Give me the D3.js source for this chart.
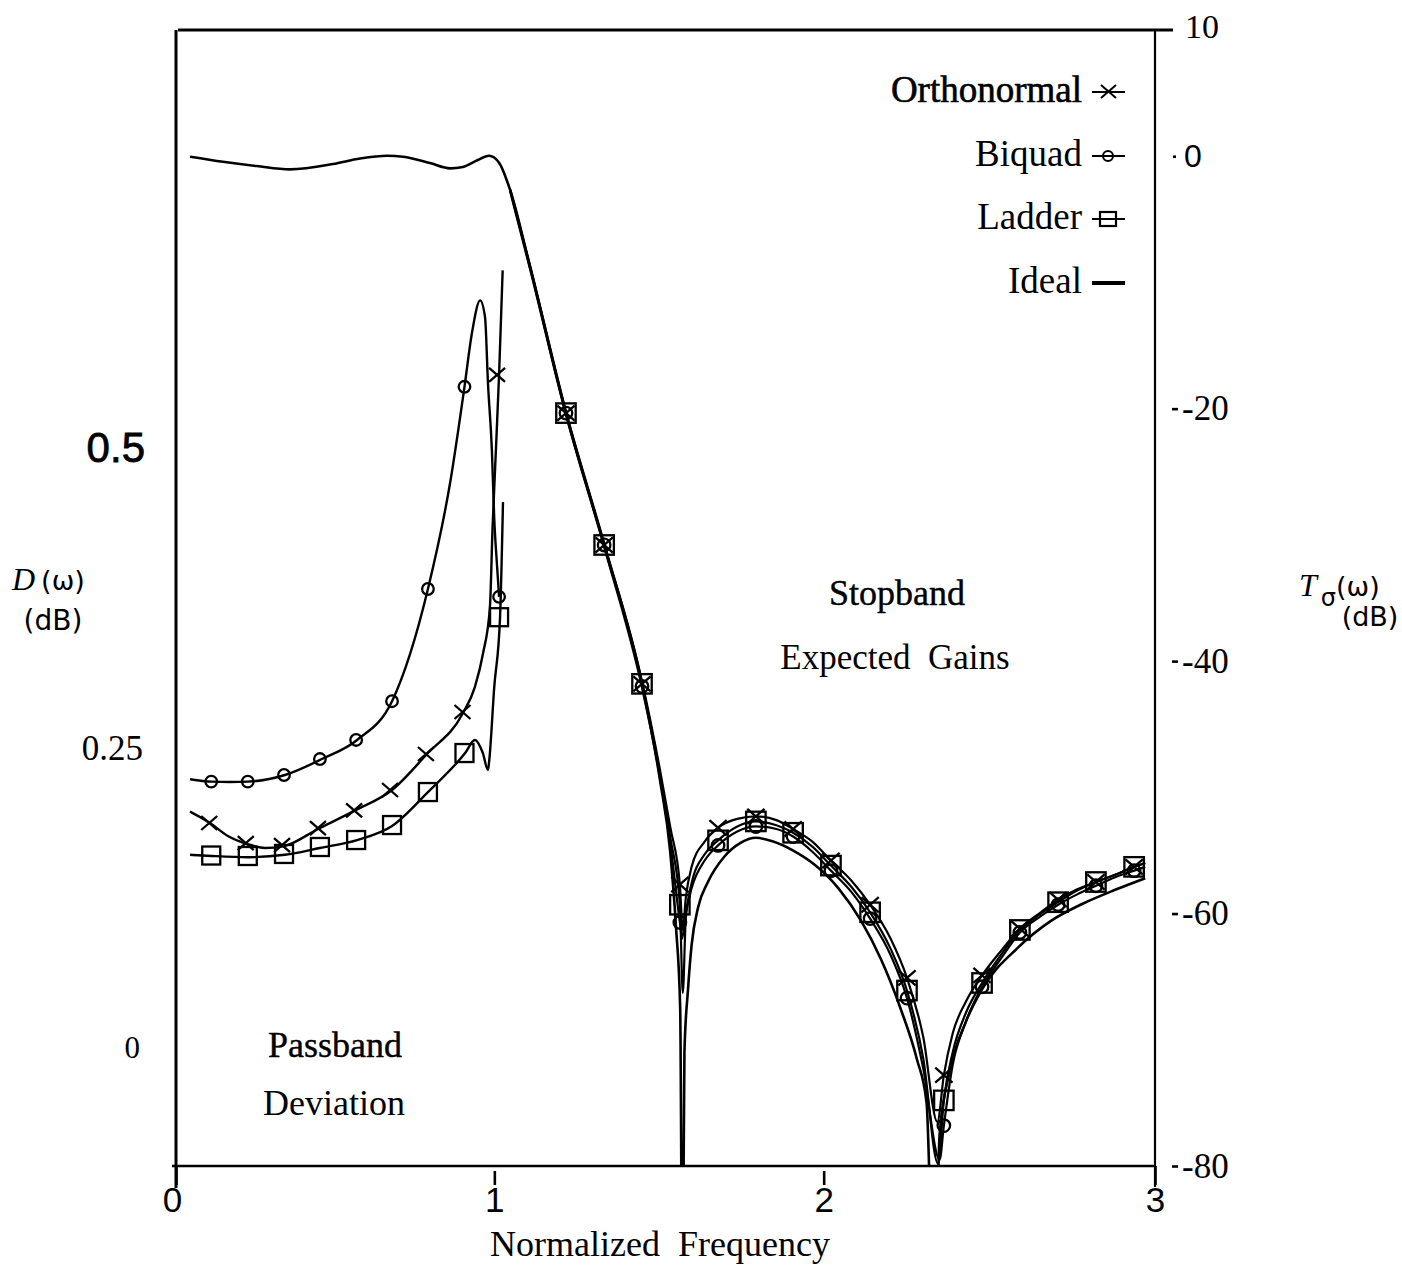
<!DOCTYPE html>
<html><head><meta charset="utf-8">
<script src="https://cdn.jsdelivr.net/npm/d3@7"></script>
<style>body{margin:0;background:#fff}text{white-space:pre}</style>
</head><body><svg id="c" width="1402" height="1266"></svg>
<script>
// ---------- DATA ----------
const xTicks = [0, 1, 2, 3];
const leftTicks = [0, 0.25, 0.5];
const rightTicks = [10, 0, -20, -40, -60, -80];
const legendNames = ["Orthonormal", "Biquad", "Ladder", "Ideal"];
const legendTypes = ["x", "o", "sq", "ideal"];

// Passband deviation D(w) (dB, left axis): [normalized frequency, value]
const pbOrthoLine = [[0.043,0.197],[0.104,0.1875],[0.159,0.1767],[0.218,0.170],[0.273,0.1667],[0.328,0.168],[0.435,0.1825],[0.549,0.198],[0.662,0.215],[0.769,0.245],[0.879,0.279],[0.916,0.301],[0.941,0.329],[0.962,0.3675],[0.970,0.433],[0.978,0.484],[0.990,0.561],[1.001,0.648]];
const pbBiquadLine = [[0.043,0.224],[0.110,0.222],[0.165,0.2217],[0.221,0.222],[0.334,0.2275],[0.447,0.2408],[0.555,0.2567],[0.662,0.289],[0.772,0.3825],[0.840,0.471],[0.884,0.551],[0.907,0.596],[0.932,0.623],[0.947,0.609],[0.956,0.554],[0.968,0.498],[0.975,0.4425],[0.984,0.401],[0.990,0.376]];
const pbLadderLine = [[0.043,0.161],[0.110,0.160],[0.221,0.159],[0.334,0.161],[0.441,0.1667],[0.555,0.1733],[0.662,0.185],[0.772,0.2133],[0.886,0.2458],[0.916,0.2567],[0.940,0.246],[0.956,0.2317],[0.960,0.240],[0.975,0.300],[0.993,0.359],[1.002,0.455]];

const pbMarkerFreq = [0.108,0.220,0.331,0.441,0.552,0.662,0.772,0.884,0.990];
const pbOrthoMarks = [0.1875,0.1708,0.169,0.1833,0.198,0.215,0.245,0.280,0.561];
const pbBiquadMarks = [0.222,0.222,0.2275,0.2408,0.2567,0.289,0.3825,0.551,0.376];
const pbLadderMarks = [0.1604,0.160,0.1617,0.1675,0.1733,0.1858,0.2133,0.2458,0.359];

// Gain T(w) (dB, right axis)
const idealLine = [[0.043,-0.04],[0.144,-0.44],[0.248,-0.78],[0.349,-1.04],[0.481,-0.62],[0.564,-0.18],[0.647,0.04],[0.696,-0.04],[0.778,-0.54],[0.840,-0.96],[0.879,-0.86],[0.925,-0.30],[0.959,0.04],[0.990,-0.51],[1.024,-2.68],[1.085,-8.78],[1.195,-20.35],[1.312,-30.8],[1.428,-41.8],[1.483,-49.4],[1.514,-55.0],[1.532,-61.0],[1.545,-67.5],[1.552,-92],[1.558,-71],[1.569,-66],[1.58,-62.5],[1.60,-59.5],[1.63,-57.5],[1.68,-55.5],[1.73,-54.4],[1.777,-54.0],[1.83,-54.3],[1.89,-55.0],[1.96,-56.2],[2.03,-58.0],[2.10,-60.6],[2.16,-63.6],[2.22,-67.5],[2.27,-71.5],[2.30,-75],[2.324,-92],[2.34,-77.5],[2.37,-72.6],[2.42,-68.6],[2.47,-66.0],[2.58,-62.7],[2.68,-60.6],[2.78,-59.2],[2.88,-58.1],[2.97,-57.2]];
const orthoStop = [[1.024,-2.6],[1.085,-8.65],[1.195,-20.2],[1.312,-30.65],[1.428,-41.6],[1.483,-48.6],[1.515,-53.2],[1.544,-57.7],[1.553,-61.3],[1.562,-58.8],[1.58,-56.3],[1.62,-54.3],[1.661,-53.2],[1.72,-52.5],[1.777,-52.3],[1.84,-52.6],[1.891,-53.3],[1.95,-54.3],[2.007,-55.8],[2.07,-57.4],[2.127,-59.3],[2.19,-62.0],[2.24,-65.1],[2.29,-69.8],[2.333,-76.5],[2.353,-72.8],[2.38,-69.5],[2.42,-67.0],[2.470,-64.9],[2.53,-62.9],[2.586,-61.2],[2.65,-59.9],[2.703,-58.9],[2.76,-58.1],[2.819,-57.5],[2.88,-56.9],[2.936,-56.3],[2.97,-56.0]];
const ladderStop = [[1.024,-2.68],[1.085,-8.78],[1.195,-20.35],[1.312,-30.8],[1.428,-41.8],[1.483,-48.9],[1.515,-54.0],[1.544,-59.3],[1.553,-66.3],[1.562,-60.5],[1.58,-57.6],[1.62,-55.3],[1.661,-54.2],[1.72,-53.1],[1.777,-52.7],[1.84,-53.0],[1.891,-53.6],[1.95,-54.7],[2.007,-56.2],[2.07,-57.9],[2.127,-59.9],[2.19,-62.8],[2.24,-66.1],[2.29,-71.5],[2.335,-79.8],[2.353,-74.8],[2.38,-71.0],[2.42,-67.9],[2.470,-65.5],[2.53,-63.2],[2.586,-61.3],[2.65,-60.0],[2.703,-59.1],[2.76,-58.2],[2.819,-57.5],[2.88,-56.9],[2.936,-56.3],[2.97,-56.0]];
const biquadStop = [[1.024,-2.8],[1.085,-8.95],[1.195,-20.5],[1.312,-30.95],[1.428,-42.1],[1.483,-49.2],[1.515,-54.5],[1.544,-60.7],[1.551,-62.0],[1.56,-60.3],[1.58,-58.0],[1.62,-55.8],[1.661,-54.6],[1.72,-53.5],[1.777,-53.1],[1.84,-53.3],[1.891,-53.9],[1.95,-55.1],[2.007,-56.6],[2.07,-58.3],[2.127,-60.4],[2.19,-63.3],[2.24,-66.7],[2.29,-72.3],[2.340,-79.5],[2.353,-76.8],[2.38,-72.0],[2.42,-68.6],[2.470,-65.8],[2.53,-63.5],[2.586,-61.5],[2.65,-60.2],[2.703,-59.3],[2.76,-58.5],[2.819,-57.8],[2.88,-57.1],[2.936,-56.6],[2.97,-56.3]];

const sbMarkerFreq = [1.195,1.312,1.428,1.544,1.661,1.777,1.891,2.007,2.127,2.240,2.353,2.470,2.586,2.703,2.819,2.936];
const sbOrthoMarks = [-20.35,-30.8,-41.8,-57.7,-53.2,-52.3,-53.3,-55.8,-59.3,-65.1,-72.8,-64.9,-61.2,-58.9,-57.5,-56.3];
const sbLadderMarks = [-20.35,-30.8,-41.8,-59.3,-54.2,-52.7,-53.6,-56.2,-59.9,-66.1,-74.8,-65.5,-61.3,-59.1,-57.5,-56.3];
const sbBiquadMarks = [-20.35,-30.8,-42.0,-60.7,-54.6,-53.1,-53.9,-56.6,-60.4,-66.7,-76.8,-65.8,-61.5,-59.3,-57.8,-56.6];

// ---------- DRAWING ----------
const serif = "'Liberation Serif','Times New Roman',serif";
const sans = "'Liberation Sans',Arial,sans-serif";
const dejavu = "'DejaVu Sans',sans-serif";

const svg = d3.select("#c");
const x = d3.scaleLinear().domain([0, 3]).range([176, 1155]);
const yL = d3.scaleLinear().domain([0, 0.5]).range([1048, 448]);
const yR = d3.scaleLinear().domain([-80, 10]).range([1166, 30]);

svg.append("defs").append("clipPath").attr("id", "plot").append("rect")
  .attr("x", x(0)).attr("y", yR(10)).attr("width", x(3) - x(0)).attr("height", yR(-80) - yR(10));

// frame
const frame = svg.append("g").attr("stroke", "#000").attr("stroke-linecap", "butt");
frame.append("line").attr("x1", x(0)).attr("x2", x(0)).attr("y1", yR(10)).attr("y2", yR(-80) + 22).attr("stroke-width", 3);
frame.append("line").attr("x1", x(0) + 2).attr("x2", x(3) + 18).attr("y1", yR(10)).attr("y2", yR(10)).attr("stroke-width", 2.8);
frame.append("line").attr("x1", x(3)).attr("x2", x(3)).attr("y1", yR(10)).attr("y2", yR(-80) + 21).attr("stroke-width", 2.2);
frame.append("line").attr("x1", x(0) - 4).attr("x2", x(3)).attr("y1", yR(-80)).attr("y2", yR(-80)).attr("stroke-width", 2.6);

// bottom axis
const xShift = {0: -4, 1: -8, 2: -5, 3: 0};
const gx = svg.append("g").attr("transform", `translate(0,${yR(-80)})`)
  .call(d3.axisBottom(x).tickValues(xTicks).tickSize(19).tickSizeOuter(0).tickPadding(2).tickFormat(d3.format("d")));
gx.select(".domain").remove();
gx.selectAll(".tick line").attr("stroke", "#000").attr("stroke-width", 2.6)
  .attr("y1", d => (d === 1 || d === 2) ? 5 : 0)
  .attr("x1", d => (d === 1 || d === 2) ? xShift[d] : 0)
  .attr("x2", d => (d === 1 || d === 2) ? xShift[d] : 0);
gx.selectAll(".tick text").attr("fill", "#000").style("font-family", sans).style("font-size", "35px")
  .attr("dx", d => xShift[d]);

// left axis
const gl = svg.append("g").attr("transform", `translate(${x(0)},0)`)
  .call(d3.axisLeft(yL).tickValues(leftTicks).tickSize(0).tickPadding(32)
    .tickFormat(d => d === 0 ? "0" : (d === 0.5 ? "0.5" : "0.25")));
gl.select(".domain").remove();
gl.selectAll(".tick text").attr("fill", "#000")
  .style("font-family", d => d === 0.5 ? sans : serif)
  .style("font-size", d => d === 0.5 ? "42px" : (d === 0 ? "31px" : "35px"))
  .attr("stroke", d => d === 0.5 ? "#000" : "none").attr("stroke-width", 0.8)
  .attr("x", d => d === 0 ? -36 : (d === 0.5 ? -31 : -33));

// right axis
const gr = svg.append("g").attr("transform", `translate(${x(3)},0)`)
  .call(d3.axisRight(yR).tickValues(rightTicks).tickSize(0).tickPadding(28).tickFormat(d => String(d)));
gr.select(".domain").remove();
gr.selectAll(".tick line").attr("stroke", "#000").attr("stroke-width", 2.6)
  .attr("x1", d => d === 10 ? 0 : (d === 0 ? 18 : 17))
  .attr("x2", d => d === 10 ? 0 : (d === 0 ? 21 : 23));
gr.selectAll(".tick text").attr("fill", "#000")
  .style("font-family", d => d === 0 ? sans : serif)
  .style("font-size", d => d === 0 ? "32px" : (d === 10 ? "34px" : "35px"))
  .attr("x", d => d === 10 ? 30 : (d === 0 ? 29 : 27))
  .attr("dy", d => d === 10 ? "0.22em" : "0.32em");

// curves
const lineL = d3.line().x(d => x(d[0])).y(d => yL(d[1])).curve(d3.curveMonotoneX);
const lineR = d3.line().x(d => x(d[0])).y(d => yR(d[1])).curve(d3.curveMonotoneX);
const gLines = svg.append("g").attr("clip-path", "url(#plot)").attr("fill", "none")
  .attr("stroke", "#000").attr("stroke-width", 2.4).attr("stroke-linejoin", "round");
[pbOrthoLine, pbBiquadLine, pbLadderLine].forEach(d => gLines.append("path").attr("d", lineL(d)));
gLines.append("path").attr("d", lineR(idealLine)).attr("stroke-width", 2.6);
[orthoStop, ladderStop, biquadStop].forEach(d => gLines.append("path").attr("d", lineR(d)).attr("stroke-width", 2.2));

// markers
function mark(g, type, cx, cy, big) {
  const k = big ? 1.08 : 1;
  if (type === "x") {
    const w = 8 * k, h = 7 * k;
    g.append("path").attr("d", `M${cx - w},${cy - h}L${cx + w},${cy + h}M${cx - w},${cy + h}L${cx + w},${cy - h}`);
  } else if (type === "o") {
    g.append("circle").attr("cx", cx).attr("cy", cy).attr("r", 5.8 * k);
  } else if (type === "sq") {
    const s = 9 * k;
    g.append("rect").attr("x", cx - s).attr("y", cy - s).attr("width", 2 * s).attr("height", 2 * s);
  }
}
const gM = svg.append("g").attr("fill", "none").attr("stroke", "#000").attr("stroke-width", 2.3);
pbMarkerFreq.forEach((f, i) => {
  mark(gM, "o", x(f), yL(pbBiquadMarks[i]), false);
  mark(gM, "x", x(f) - 2, yL(pbOrthoMarks[i]), false);
  mark(gM, "sq", x(f), yL(pbLadderMarks[i]), false);
});
sbMarkerFreq.forEach((f, i) => {
  mark(gM, "sq", x(f), yR(sbLadderMarks[i]), true);
  mark(gM, "o", x(f), yR(sbBiquadMarks[i]), true);
  mark(gM, "x", x(f), yR(sbOrthoMarks[i]), true);
});

// legend
const legY = [90, 154, 217, 281];
const gLeg = svg.append("g");
legendNames.forEach((n, i) => {
  gLeg.append("text").attr("x", 1082).attr("y", legY[i]).attr("dy", "0.33em")
    .attr("text-anchor", "end").style("font-family", serif).style("font-size", "37px")
    .attr("stroke", i === 0 ? "#000" : "none").attr("stroke-width", 0.6).text(n);
  const ly = legY[i] + 2;
  gLeg.append("line").attr("x1", 1092).attr("x2", 1125).attr("y1", ly).attr("y2", ly)
    .attr("stroke", "#000").attr("stroke-width", legendTypes[i] === "ideal" ? 3.8 : 2);
  if (legendTypes[i] === "x") {
    gLeg.append("path").attr("d", `M1101,${ly - 7}L1116,${ly + 6}M1101,${ly + 6}L1116,${ly - 7}`)
      .attr("stroke", "#000").attr("stroke-width", 2);
  } else if (legendTypes[i] === "o") {
    gLeg.append("circle").attr("cx", 1108).attr("cy", ly).attr("r", 5).attr("fill", "none").attr("stroke", "#000").attr("stroke-width", 2);
  } else if (legendTypes[i] === "sq") {
    gLeg.append("rect").attr("x", 1100).attr("y", ly - 7).attr("width", 16).attr("height", 14).attr("fill", "none").attr("stroke", "#000").attr("stroke-width", 2.2);
  }
});

// annotations
function txt(tx, ty, s, size, fam, anchor) {
  return svg.append("text").attr("x", tx).attr("y", ty).attr("text-anchor", anchor || "middle")
    .style("font-family", fam || serif).style("font-size", size + "px").attr("fill", "#000").text(s);
}
txt(897, 605, "Stopband", 36).attr("stroke", "#000").attr("stroke-width", 0.4);
txt(895, 669, "Expected  Gains", 35);
txt(335, 1057, "Passband", 36).attr("stroke", "#000").attr("stroke-width", 0.4);
txt(334, 1115, "Deviation", 36);
txt(660, 1256, "Normalized  Frequency", 36);

// left axis title
const lt = svg.append("text").attr("x", 12).attr("y", 590).attr("fill", "#000");
lt.append("tspan").style("font-family", serif).style("font-style", "italic").style("font-size", "32px").text("D");
lt.append("tspan").style("font-family", dejavu).style("font-size", "27px").attr("dx", 6).text("(ω)");
txt(53, 630, "(dB)", 28, dejavu);

// right axis title
const rt = svg.append("text").attr("x", 1299).attr("y", 596).attr("fill", "#000");
rt.append("tspan").style("font-family", serif).style("font-style", "italic").style("font-size", "32px").text("T");
rt.append("tspan").style("font-family", dejavu).style("font-size", "24px").attr("dy", 10).attr("dx", 4).text("σ");
rt.append("tspan").style("font-family", dejavu).style("font-size", "27px").attr("dy", -10).text("(ω)");
txt(1370, 626, "(dB)", 27, dejavu);
</script>
</body></html>
